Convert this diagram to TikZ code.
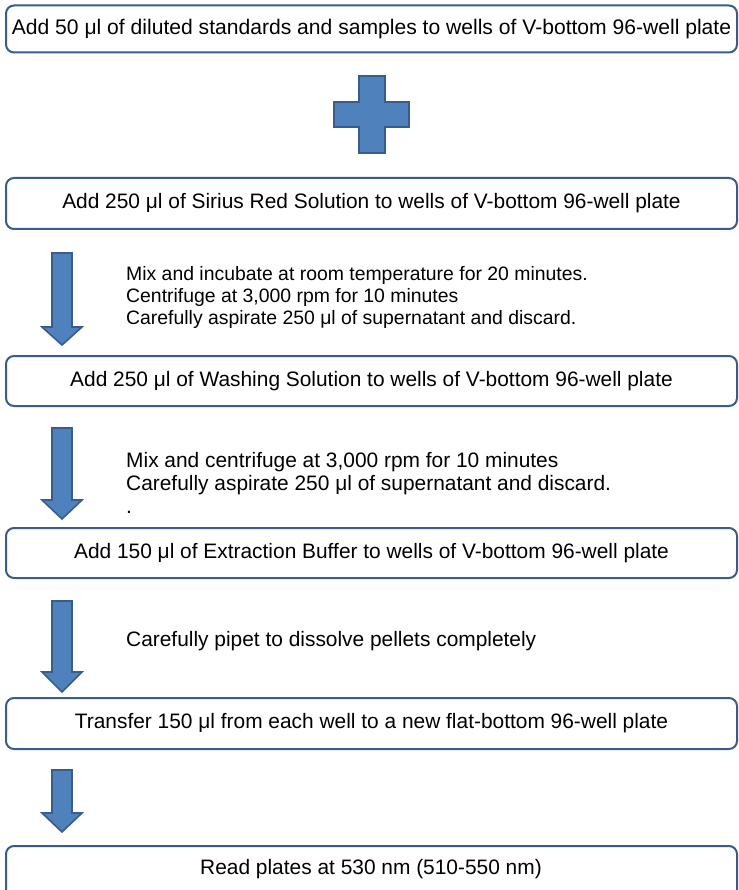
\documentclass[tikz,border=0pt]{standalone}
\usepackage{fontspec}
\setmainfont{Liberation Sans}
\definecolor{afill}{HTML}{4F81BD}
\definecolor{aline}{HTML}{385D8A}
\begin{document}
\begin{tikzpicture}[x=1pt,y=-1pt,
  stepbox/.style={draw=aline,line width=2pt,rounded corners=8pt,fill=white,
    minimum width=731pt,inner sep=0pt,font=\fontsize{20.9}{24}\selectfont,anchor=north west},
  sidetext/.style={anchor=north west,align=left,inner sep=0pt,
    font=\fontsize{20.9}{23}\selectfont},
  blockarrow/.style={fill=afill,draw=aline,line width=1.6pt,line join=miter}]
\useasboundingbox (0,0) rectangle (738,890);
\begin{scope}
\clip (0,0) rectangle (738,890);
\node[stepbox,minimum height=47pt,font=\fontsize{21.1}{24}\selectfont] (b1) at (5,4.5) {Add 50 μl of diluted standards and samples to wells of V-bottom 96-well plate};
\node[stepbox,minimum height=51pt] (b2) at (5,177) {Add 250 μl of Sirius Red Solution to wells of V-bottom 96-well plate};
\node[stepbox,minimum height=50pt] (b3) at (5,355) {Add 250 μl of Washing Solution to wells of V-bottom 96-well plate};
\node[stepbox,minimum height=50pt] (b4) at (5,527) {Add 150 μl of Extraction Buffer to wells of V-bottom 96-well plate};
\node[stepbox,minimum height=51pt] (b5) at (5,697) {Transfer 150 μl from each well to a new flat-bottom 96-well plate};
\node[draw=aline,line width=2pt,rounded corners=8pt,fill=white,minimum width=731pt,minimum height=60pt,anchor=north west] (b6) at (5,845) {};
\node[font=\fontsize{20.9}{24}\selectfont,inner sep=0pt] (t6) at (371,869) {Read plates at 530 nm (510-550 nm)};
\end{scope}
% plus sign
\draw[blockarrow] (359,76) -- (385,76) -- (385,102) -- (409,102) -- (409,127) -- (385,127)
  -- (385,153) -- (359,153) -- (359,127) -- (334,127) -- (334,102) -- (359,102) -- cycle;
\node[inner sep=0pt] (plus) at (372,114.5) {};
% block arrows
\newcommand\myblockarrow[3]{%
  \draw[blockarrow] (52,#1) -- (72,#1) -- (72,#2) -- (82,#2) -- (62,#3) -- (42,#2) -- (52,#2) -- cycle;}
\myblockarrow{253}{327}{345}
\myblockarrow{428}{500}{519}
\myblockarrow{601}{672}{692}
\myblockarrow{770}{813}{832}
% side texts
\node[sidetext,font=\fontsize{19.4}{22.3}\selectfont] (s1) at (126,266) {Mix and incubate at room temperature for 20 minutes.\\Centrifuge at 3,000 rpm for 10 minutes\\Carefully aspirate 250 μl of supernatant and discard.};
\node[sidetext] (s2) at (126,452) {Mix and centrifuge at 3,000 rpm for 10 minutes\\Carefully aspirate 250 μl of supernatant and discard.\\.};
\node[sidetext] (s3) at (126,631) {Carefully pipet to dissolve pellets completely};
\end{tikzpicture}
\end{document}
